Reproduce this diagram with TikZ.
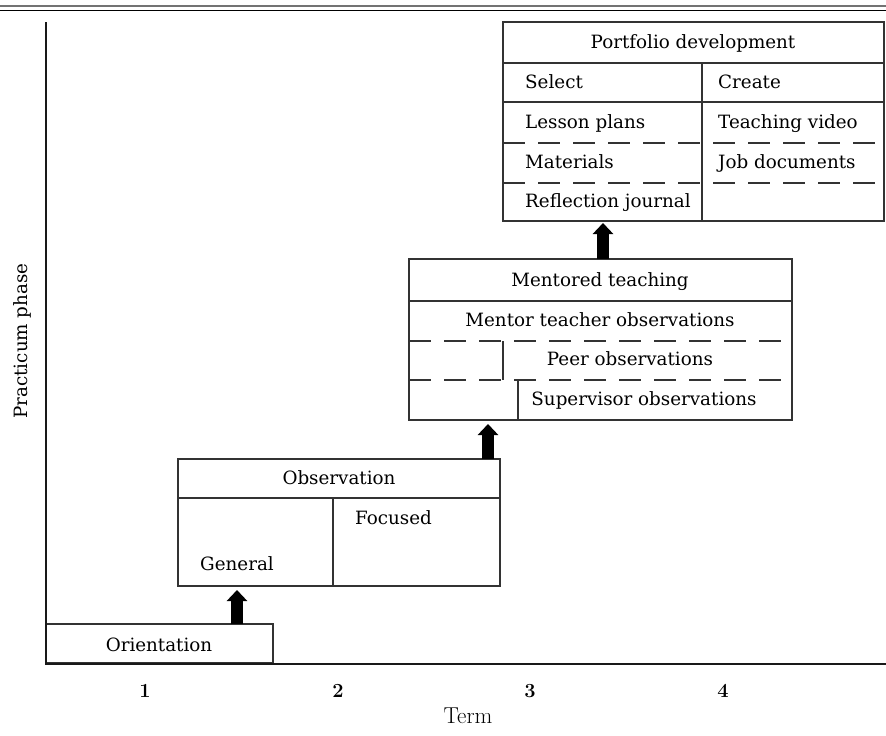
\documentclass[tikz,border=0pt]{standalone}
\usepackage{fontspec}
\newfontfamily\dvs{DejaVu Serif}
\usetikzlibrary{arrows.meta}
\begin{document}
\begin{tikzpicture}[x=1pt,y=-1pt,
  box/.style={draw=black!80, line width=1.3pt, rectangle, inner sep=0pt, outer sep=0pt, anchor=north west},
  div/.style={draw=black!80, line width=1.3pt},
  dsh/.style={draw=black!80, line width=1.3pt, dash pattern=on 22pt off 13pt},
  axis/.style={draw=black!90, line width=2.6pt},
  lbl/.style={inner sep=0pt, font=\dvs\fontsize{18.3}{22}\selectfont},
  num/.style={inner sep=0pt, font=\bfseries\fontsize{20}{24}\selectfont},
  ttl/.style={inner sep=0pt, font=\fontsize{23}{27}\selectfont},
  bigarrow/.style={draw=black, line width=11.5pt, -{Triangle[width=20pt,length=11pt]}}
]
\useasboundingbox (0,0) rectangle (886,736);
% top rules
\draw[black!55, line width=2pt] (0,5.5) -- (886,5.5);
\draw[black, line width=1.5pt] (0,10.5) -- (886,10.5);

% boxes
\node[box, minimum width=227pt, minimum height=39pt] (orient) at (46,624) {};
\node[box, minimum width=322pt, minimum height=127pt] (obs) at (178,459) {};
\node[box, minimum width=383pt, minimum height=161pt] (ment) at (409,259) {};
\node[box, minimum width=381pt, minimum height=199pt] (port) at (503,22) {};

% observation dividers
\draw[div] (obs.west |- 0,498) -- (obs.east |- 0,498);
\draw[div] (333,498) -- (333,0 |- obs.south);

% mentored dividers
\draw[div] (ment.west |- 0,301) -- (ment.east |- 0,301);
\draw[dsh] (ment.west |- 0,341) -- (ment.east |- 0,341);
\draw[dsh] (ment.west |- 0,380) -- (ment.east |- 0,380);
\draw[div] (503,341) -- (503,380);
\draw[div] (518,380) -- (518,0 |- ment.south);

% portfolio dividers
\draw[div] (port.west |- 0,63) -- (port.east |- 0,63);
\draw[div] (port.west |- 0,102) -- (port.east |- 0,102);
\draw[dsh] (port.west |- 0,143) -- (port.east |- 0,143);
\draw[dsh] (port.west |- 0,183) -- (port.east |- 0,183);
\draw[div] (702,63) -- (702,0 |- port.south);

% axes
\coordinate (ytop) at (46,22);
\coordinate (origin) at (46,664);
\coordinate (xend) at (886,664);
\draw[axis] (ytop) -- (origin) -- (xend);

% texts
\node[lbl, anchor=base] (tport) at (693,48) {Portfolio development};
\node[lbl, anchor=base west] (tsel) at (525,88) {Select};
\node[lbl, anchor=base west] (tcre) at (718,88) {Create};
\node[lbl, anchor=base west] (tles) at (525,128) {Lesson plans};
\node[lbl, anchor=base west] (tvid) at (718,128) {Teaching video};
\node[lbl, anchor=base west] (tmat) at (525,168) {Materials};
\node[lbl, anchor=base west] (tjob) at (718,168) {Job documents};
\node[lbl, anchor=base west] (tref) at (525,207) {Reflection journal};

\node[lbl, anchor=base] (tment) at (600,286) {Mentored teaching};
\node[lbl, anchor=base] (tmto) at (600,326) {Mentor teacher observations};
\node[lbl, anchor=base] (tpeer) at (630,365) {Peer observations};
\node[lbl, anchor=base] (tsup) at (644,405) {Supervisor observations};

\node[lbl, anchor=base] (tobs) at (339,484) {Observation};
\node[lbl, anchor=base west] (tfoc) at (355,524) {Focused};
\node[lbl, anchor=base west] (tgen) at (200,570) {General};

\node[lbl, anchor=base] (tori) at (159,651) {Orientation};

\node[num, anchor=base] (n1) at (145,697) {1};
\node[num, anchor=base] (n2) at (338,697) {2};
\node[num, anchor=base] (n3) at (530,697) {3};
\node[num, anchor=base] (n4) at (723,697) {4};
\node[ttl, anchor=base] (term) at (468,723) {Term};
\node[lbl, rotate=90] (yl) at (22,341) {Practicum phase};

% arrows
\draw[bigarrow, shorten >=4pt] (237,0 |- orient.north) -- (237,0 |- obs.south);
\draw[bigarrow, shorten >=4pt] (488,0 |- obs.north) -- (488,0 |- ment.south);
\draw[bigarrow, shorten >=2pt] (603,0 |- ment.north) -- (603,0 |- port.south);
\end{tikzpicture}
\end{document}
